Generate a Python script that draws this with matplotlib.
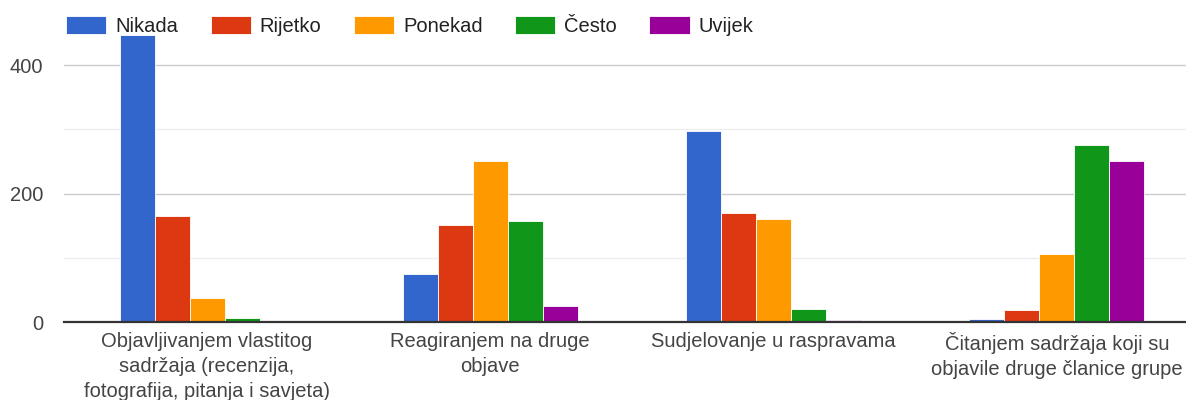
import matplotlib.pyplot as plt
import numpy as np

plt.rcParams['font.family'] = ['Liberation Sans', 'DejaVu Sans']

categories = [
    "Objavljivanjem vlastitog\nsadržaja (recenzija,\nfotografija, pitanja i savjeta)",
    "Reagiranjem na druge\nobjave",
    "Sudjelovanje u raspravama",
    "Čitanjem sadržaja koji su\nobjavile druge članice grupe",
]
series = ["Nikada", "Rijetko", "Ponekad", "Često", "Uvijek"]
nikada = [447, 75, 297, 5]
rijetko = [165, 151, 170, 19]
ponekad = [37, 250, 160, 106]
cesto = [6, 157, 21, 276]
uvijek = [2, 25, 3, 250]
values = [nikada, rijetko, ponekad, cesto, uvijek]
colors = ["#3366cc", "#dc3912", "#ff9900", "#109618", "#990099"]
yticks = [0, 200, 400]

fig = plt.figure(figsize=(11.86, 4), dpi=100)
ax = fig.add_axes([64 / 1186, 1 - 322 / 400, 1 - 64 / 1186, (322 - 35) / 400])

x = np.arange(len(categories))
w = 0.1235
for i, (name, vals, c) in enumerate(zip(series, values, colors)):
    ax.bar(x + (i - 2) * w, vals, width=w, color=c, edgecolor="white",
           linewidth=0.6, label=name, zorder=3)

ax.set_xlim(-0.505, 3.456)
ax.set_ylim(0, 447)
for y in [100, 300]:
    ax.axhline(y, color="#eeeeee", lw=1, zorder=1)
for y in [200, 400]:
    ax.axhline(y, color="#cccccc", lw=1, zorder=1)

ax.set_yticks(yticks)
ax.set_yticklabels([str(t) for t in yticks])
ax.set_xticks(x)
ax.set_xticklabels(categories, linespacing=1.4)
ax.tick_params(axis="both", length=0, labelsize=14.5, colors="#444444")
ax.tick_params(axis="y", pad=15)
ax.tick_params(axis="x", pad=7.5)
for s in ["top", "right", "left"]:
    ax.spines[s].set_visible(False)
ax.spines["bottom"].set_color("#333333")
ax.spines["bottom"].set_linewidth(1.6)
ax.spines["bottom"].set_zorder(4)

fig.legend(loc="center left", bbox_to_anchor=(56 / 1186, 1 - 26 / 400), ncol=5,
           frameon=False, fontsize=14.5, handlelength=2.0, handleheight=0.95,
           handletextpad=0.45, columnspacing=1.6, borderpad=0,
           labelcolor="#222222")

fig.savefig("out.png", dpi=100)
